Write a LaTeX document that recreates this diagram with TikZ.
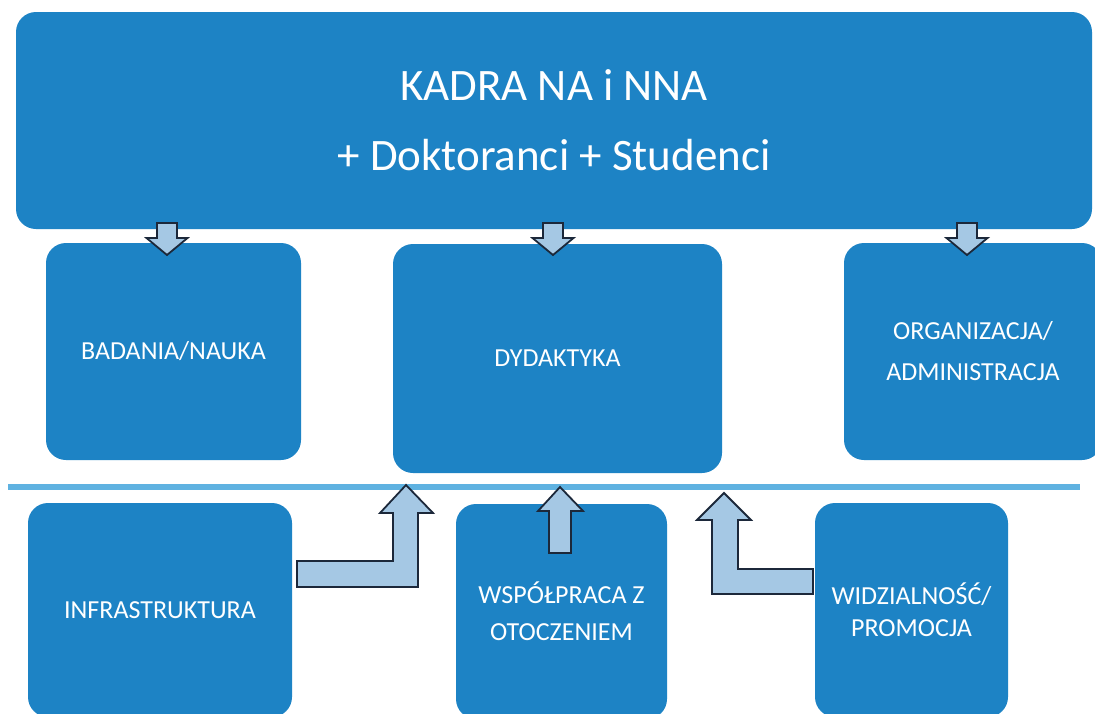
\documentclass[tikz,border=0pt]{standalone}
\usepackage{fontspec}
\setmainfont{Carlito}
\definecolor{boxblue}{RGB}{29,131,197}
\definecolor{sepblue}{RGB}{95,178,225}
\definecolor{arrfill}{RGB}{165,200,228}
\definecolor{arrdraw}{RGB}{28,40,58}
\tikzset{
  blbox/.style={draw=none, fill=boxblue, rounded corners=20pt, text=white, align=center,
    inner sep=0pt, font=\fontsize{26}{41}\selectfont},
  fatarrow/.style={fill=arrfill, draw=arrdraw, line width=1.8pt, line join=miter},
  pics/downarrow/.style={code={
    \draw[fatarrow] (-10,0) -- (10,0) -- (10,15) -- (20.5,15) -- (0,32) -- (-20.5,15) -- (-10,15) -- cycle;
  }}
}
\begin{document}
\begin{tikzpicture}[x=1pt,y=-1pt]
\useasboundingbox (0,0) rectangle (1095,713);
\clip (0,0) rectangle (1095,713);
\fill[white] (0,0) rectangle (1095,713);

% top box
\node[blbox, minimum width=1076pt, minimum height=217pt, font=\fontsize{45}{70}\selectfont] (top) at (554,120.5)
  {KADRA NA i NNA\\+ Doktoranci + Studenci};

% middle row
\node[blbox, minimum width=255pt, minimum height=217pt] (bad) at (173.5,351.5) {BADANIA/NAUKA};
\node[blbox, minimum width=329pt, minimum height=229pt] (dyd) at (557.5,358.5) {DYDAKTYKA};
\node[blbox, minimum width=258pt, minimum height=217pt] (org) at (973,351.5) {ORGANIZACJA/\\ADMINISTRACJA};

% separator
\coordinate (sepL) at (8,487);
\coordinate (sepR) at (1080,487);
\draw[sepblue, line width=5.5pt] (sepL) -- (sepR);

% bottom row
\node[blbox, minimum width=264pt, minimum height=214pt] (inf) at (160,610) {INFRASTRUKTURA};
\node[blbox, minimum width=211pt, minimum height=215pt, font=\fontsize{26}{37}\selectfont] (wsp) at (561.5,611.5) {WSPÓŁPRACA Z\\OTOCZENIEM};
\node[blbox, minimum width=193pt, minimum height=214pt, font=\fontsize{26}{32}\selectfont] (wid) at (911.5,610) {WIDZIALNOŚĆ/\\PROMOCJA};

% down arrows from top box
\pic at (167,223) {downarrow};
\pic at (553,223) {downarrow};
\pic at (967,223) {downarrow};

% up arrows into DYDAKTYKA
\draw[fatarrow] (297,561) -- (393,561) -- (393,513) -- (380,513) -- (406,485) -- (433,513) -- (418,513) -- (418,587) -- (297,587) -- cycle;
\draw[fatarrow] (549,553) -- (549,511) -- (538,511) -- (560,487) -- (583,511) -- (571,511) -- (571,553) -- cycle;
\draw[fatarrow] (712,594) -- (712,520) -- (697,520) -- (724,493) -- (751,520) -- (738,520) -- (738,569) -- (813,569) -- (813,594) -- cycle;
\end{tikzpicture}
\end{document}
